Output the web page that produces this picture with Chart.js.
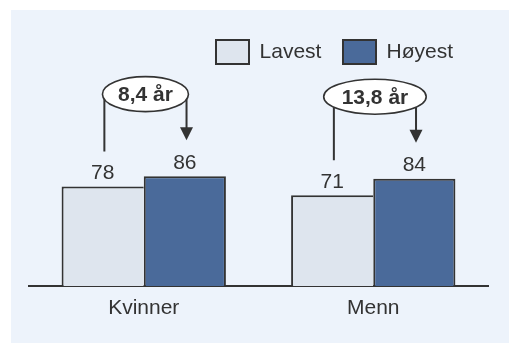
<!DOCTYPE html>
<html>
<head>
<meta charset="utf-8">
<script src="https://cdn.jsdelivr.net/npm/chart.js@4/dist/chart.umd.min.js"></script>
<style>
  html, body { margin: 0; padding: 0; background: #ffffff; }
  #wrap { width: 509px; height: 343px; }
</style>
</head>
<body>
<div id="wrap"><canvas id="c" width="509" height="343"></canvas></div>
<script>
// Forventet levealder, laveste og høyeste gruppe
const categories = ['Kvinner', 'Menn'];
const seriesNames = ['Lavest', 'Høyest'];
const lavest = [78, 71];
const hoyest = [86, 84];
const gapLabels = ['8,4 år', '13,8 år'];

const INK = '#333333';
const FONT = "'Liberation Sans', Arial, sans-serif";

// Light blue panel behind the chart
const panel = {
  id: 'panel',
  beforeDraw(chart) {
    const ctx = chart.ctx;
    ctx.save();
    ctx.fillStyle = '#ffffff';
    ctx.fillRect(0, 0, chart.width, chart.height);
    ctx.fillStyle = '#edf3fb';
    ctx.fillRect(11, 10, chart.width - 11, chart.height - 10);
    ctx.restore();
  }
};

// Keep the legend to the right, but inside the plot width
const legendPlace = {
  id: 'legendPlace',
  afterLayout(chart) {
    chart.legend.right = chart.chartArea.right - 13.4;
  }
};

// Value labels above bars and the gap bubbles with arrows
const annotate = {
  id: 'annotate',
  afterDatasetsDraw(chart) {
    const ctx = chart.ctx;
    const m0 = chart.getDatasetMeta(0);
    const m1 = chart.getDatasetMeta(1);
    ctx.save();
    ctx.fillStyle = INK;
    ctx.font = '21px ' + FONT;
    ctx.textAlign = 'center';
    ctx.textBaseline = 'alphabetic';
    [m0, m1].forEach((meta, d) => {
      const vals = d === 0 ? lavest : hoyest;
      meta.data.forEach((bar, i) => {
        ctx.fillText(String(vals[i]), bar.x, bar.y - 7.5);
      });
    });

    categories.forEach((c, i) => {
      const b0 = m0.data[i], b1 = m1.data[i];
      const xL = b0.x + 1.7, xH = b1.x + 1.7;
      const lowEnd = b0.y - 35;
      const tip = b1.y - 36;
      const cx = (xL + xH) / 2;
      const cy = b1.y - 82;
      ctx.font = 'bold 21px ' + FONT;
      const tw = ctx.measureText(gapLabels[i]).width;
      const rx = Math.max(tw * 0.77, 43);
      const ry = 17.5;

      ctx.strokeStyle = INK;
      ctx.lineWidth = 2;
      ctx.beginPath();
      ctx.moveTo(xL, lowEnd);
      ctx.lineTo(xL, cy);
      ctx.moveTo(xH, cy);
      ctx.lineTo(xH, tip - 12);
      ctx.stroke();

      ctx.fillStyle = INK;
      ctx.beginPath();
      ctx.moveTo(xH - 6.5, tip - 13);
      ctx.lineTo(xH + 6.5, tip - 13);
      ctx.lineTo(xH, tip);
      ctx.closePath();
      ctx.fill();

      ctx.beginPath();
      ctx.ellipse(cx, cy, rx, ry, 0, 0, Math.PI * 2);
      ctx.fillStyle = '#ffffff';
      ctx.fill();
      ctx.lineWidth = 1.6;
      ctx.stroke();

      ctx.fillStyle = INK;
      ctx.textBaseline = 'middle';
      ctx.fillText(gapLabels[i], cx, cy + 1);
      ctx.textBaseline = 'alphabetic';
    });
    ctx.restore();
  }
};

new Chart(document.getElementById('c'), {
  type: 'bar',
  data: {
    labels: categories,
    datasets: [
      {
        label: seriesNames[0],
        data: lavest,
        backgroundColor: '#dee5ee',
        borderColor: INK,
        borderWidth: { top: 2, left: 2, right: 0, bottom: 0 },
        borderSkipped: 'bottom'
      },
      {
        label: seriesNames[1],
        data: hoyest,
        backgroundColor: '#4a6a9a',
        borderColor: INK,
        borderWidth: { top: 2, left: 2, right: 2, bottom: 0 },
        borderSkipped: 'bottom'
      }
    ]
  },
  options: {
    responsive: false,
    animation: false,
    devicePixelRatio: 1,
    layout: { padding: { left: 29, right: 21, top: 18.4, bottom: 12.4 } },
    datasets: {
      bar: { categoryPercentage: 0.716, barPercentage: 1.0 }
    },
    scales: {
      x: {
        z: 1,
        grid: { display: false, drawTicks: false },
        border: { display: true, color: INK, width: 2 },
        ticks: { color: INK, font: { family: FONT, size: 21 }, padding: 9.7 }
      },
      y: {
        display: false,
        min: 0,
        max: 166
      }
    },
    plugins: {
      legend: {
        position: 'top',
        align: 'end',
        labels: {
          color: INK,
          font: { family: FONT, size: 21 },
          boxWidth: 33,
          boxHeight: 24,
          padding: 21.6,
          generateLabels(chart) {
            const items = Chart.defaults.plugins.legend.labels.generateLabels(chart);
            items.forEach(it => { it.lineWidth = 2; it.strokeStyle = INK; });
            return items;
          }
        }
      },
      tooltip: { enabled: false }
    }
  },
  plugins: [panel, legendPlace, annotate]
});
</script>
</body>
</html>
